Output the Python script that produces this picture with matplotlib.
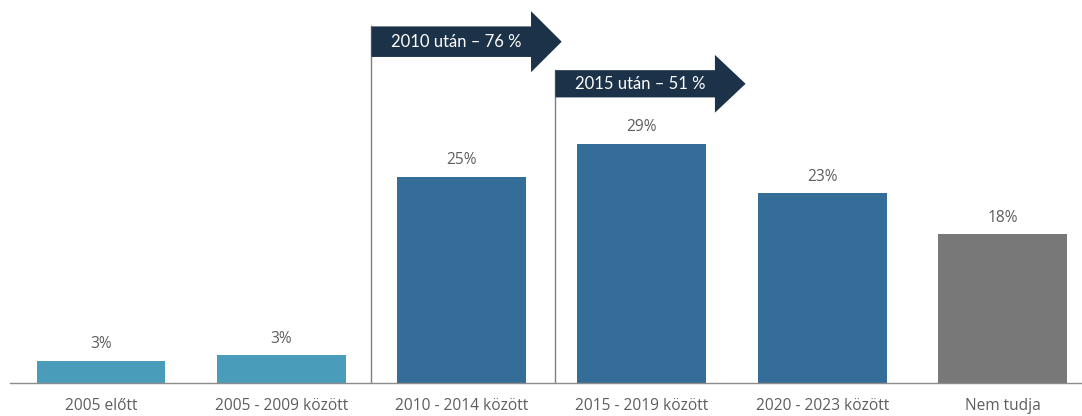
import matplotlib.pyplot as plt
from matplotlib.patches import Polygon

categories = ["2005 előtt", "2005 - 2009 között", "2010 - 2014 között",
              "2015 - 2019 között", "2020 - 2023 között", "Nem tudja"]
values = [2.7, 3.4, 25, 29, 23, 18]
colors = ["#4a9dba", "#4a9dba", "#346d97", "#346d97", "#346d97", "#787878"]

# bracket arrows: (text, index of first category covered, top of body, bottom of body)
groups = [("2010 után – 76 %", 2, 43.2, 39.5),
          ("2015 után – 51 %", 3, 37.9, 34.6)]

plt.rcParams['font.family'] = ['Open Sans', 'DejaVu Sans']
text_col = "#5e5e5e"
navy = "#1b3249"

fig = plt.figure(figsize=(10.82, 4.16), dpi=100)
ax = fig.add_axes([10 / 1082, 33 / 416, 1 - 10 / 1082, 1 - 33 / 416])

x = list(range(len(categories)))
bars = ax.bar(x, values, width=0.715, color=colors, zorder=2)

for b, v in zip(bars, values):
    ax.annotate(f"{round(v)}%", (b.get_x() + b.get_width() / 2, v),
                xytext=(0, 6), textcoords="offset points",
                ha="center", va="bottom", fontsize=11.2, color=text_col)

ax.set_xlim(-0.505, 5.441)
ax.set_ylim(0, 46.4)
ax.set_xticks(x)
ax.set_xticklabels(categories, fontsize=11.2, color=text_col)
ax.tick_params(axis="x", length=0, pad=11)
ax.set_yticks([])
for s in ["top", "right", "left"]:
    ax.spines[s].set_visible(False)
ax.spines["bottom"].set_color("#8c8c8c")
ax.spines["bottom"].set_linewidth(1.0)

for label, i, top, bot in groups:
    x0 = i - 0.5 + (0.02 if i == 3 else 0)
    body_end = x0 + 0.885
    tip = x0 + 1.055
    mid = (top + bot) / 2
    ext = 1.85
    ax.plot([x0, x0], [0, top], color="#7f7f7f", lw=1.0, zorder=1)
    arrow = Polygon([(x0, top), (body_end, top), (body_end, top + ext),
                     (tip, mid), (body_end, bot - ext), (body_end, bot),
                     (x0, bot)], closed=True, color=navy, lw=0, zorder=3)
    ax.add_patch(arrow)
    ax.text((x0 + body_end) / 2 + 0.03, mid, label, ha="center", va="center",
            color="white", fontsize=12, family=["Lato", "DejaVu Sans"], zorder=4)

fig.savefig("out.png", dpi=100)
